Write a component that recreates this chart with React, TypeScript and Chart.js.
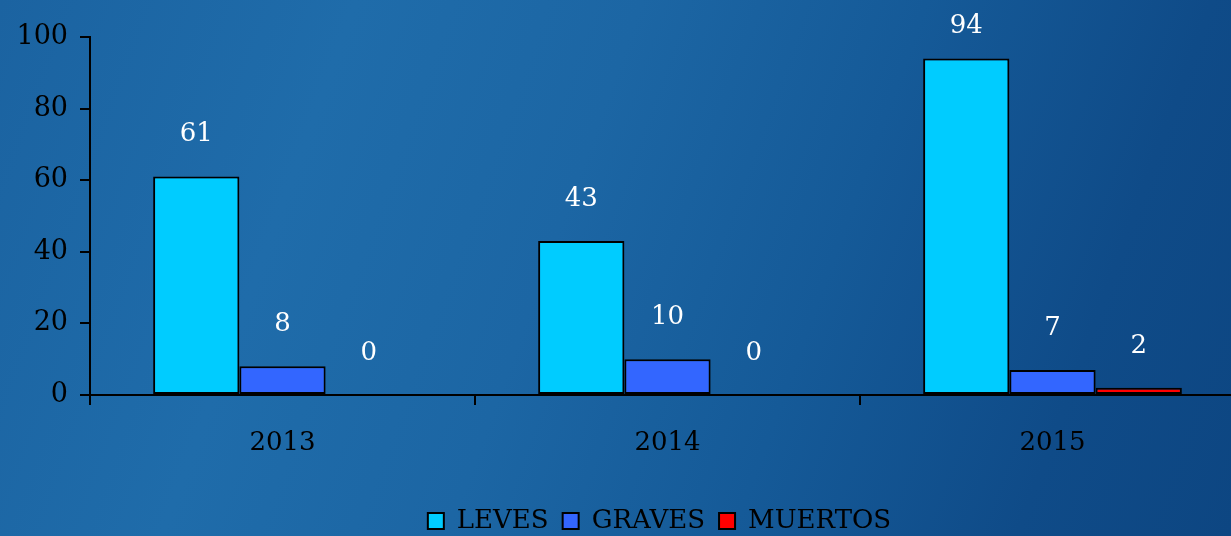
import React, { useEffect, useRef } from "react";
import { Chart, registerables } from "chart.js";

Chart.register(...registerables);

const years = ["2013", "2014", "2015"];
const leves = [61, 43, 94];
const graves = [8, 10, 7];
const muertos = [0, 0, 2];
const seriesNames = ["LEVES", "GRAVES", "MUERTOS"];
const yTicks = [0, 20, 40, 60, 80, 100];

const FONT = "'DejaVu Serif', serif";

const valueLabels = {
  id: "valueLabels",
  afterDatasetsDraw(chart: any) {
    const ctx = chart.ctx;
    ctx.save();
    ctx.fillStyle = "#ffffff";
    ctx.font = `26px ${FONT}`;
    ctx.textAlign = "center";
    ctx.textBaseline = "middle";
    chart.data.datasets.forEach((ds: any, i: number) => {
      const meta = chart.getDatasetMeta(i);
      meta.data.forEach((bar: any, j: number) => {
        const y = Math.max(bar.y - 42, 26);
        ctx.fillText(String(ds.data[j]), bar.x, y);
      });
    });
    ctx.restore();
  },
};

const legendShift = {
  id: "legendShift",
  beforeDraw(chart: any) {
    const lg = chart.legend;
    if (!lg) return;
    const h = lg.bottom - lg.top;
    lg.left = chart.chartArea.left - 8;
    lg.right = chart.chartArea.right - 8;
    lg.top = 494;
    lg.bottom = 494 + h;
  },
};

export default function App() {
  const ref = useRef<HTMLCanvasElement>(null);
  useEffect(() => {
    if (!ref.current) return;
    const chart = new Chart(ref.current, {
      type: "bar",
      data: {
        labels: years,
        datasets: [
          { label: seriesNames[0], data: leves, backgroundColor: "#00CCFF", borderColor: "#000000", borderWidth: 2, borderSkipped: false },
          { label: seriesNames[1], data: graves, backgroundColor: "#3366FF", borderColor: "#000000", borderWidth: 2, borderSkipped: false },
          { label: seriesNames[2], data: muertos, backgroundColor: "#FF0000", borderColor: "#000000", borderWidth: 2, borderSkipped: false },
        ],
      },
      options: {
        animation: false,
        responsive: false,
        devicePixelRatio: 1,
        layout: { padding: { top: 37, right: 5, left: 0, bottom: 0 } },
        datasets: { bar: { categoryPercentage: 0.672, barPercentage: 1 } },
        plugins: {
          tooltip: { enabled: false },
          legend: {
            position: "bottom",
            labels: {
              boxWidth: 16,
              boxHeight: 16,
              padding: 14,
              color: "#000000",
              font: { family: FONT, size: 26 },
            },
          },
        },
        scales: {
          x: {
            afterFit: (s: any) => { s.height = 91; },
            grid: {
              display: true,
              drawOnChartArea: false,
              drawTicks: true,
              tickLength: 10,
              color: "#000000",
              lineWidth: 2,
              offset: true,
            },
            border: { display: true, color: "#000000", width: 2 },
            ticks: { color: "#000000", font: { family: FONT, size: 26 }, padding: 23 },
          },
          y: {
            min: 0,
            max: 100,
            afterFit: (s: any) => { s.width = 90; },
            afterBuildTicks: (s: any) => { s.ticks = yTicks.map((v) => ({ value: v })); },
            grid: {
              display: true,
              drawOnChartArea: false,
              drawTicks: true,
              tickLength: 10,
              color: "#000000",
              lineWidth: 2,
            },
            border: { display: true, color: "#000000", width: 2 },
            ticks: { color: "#000000", font: { family: FONT, size: 27 }, padding: 12 },
          },
        },
      },
      plugins: [valueLabels, legendShift],
    });
    return () => chart.destroy();
  }, []);

  return (
    <div
      style={{
        position: "absolute",
        left: 0,
        top: 0,
        width: 1231,
        height: 536,
        overflow: "hidden",
        background:
          "linear-gradient(110deg, #1b63a1 0%, #1f6caa 25%, #1c66a4 45%, #155a98 65%, #0f4b88 85%, #0d4682 100%)",
      }}
    >
      <canvas ref={ref} width={1250} height={536} style={{ display: "block" }} />
    </div>
  );
}
